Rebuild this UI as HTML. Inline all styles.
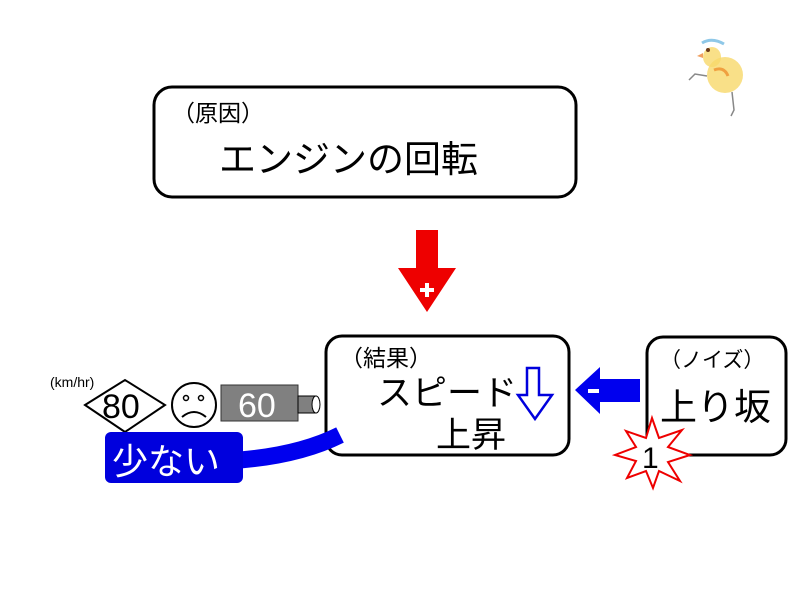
<!DOCTYPE html>
<html><head><meta charset="utf-8"><style>
html,body{margin:0;padding:0;background:#fff;}
text{font-family:"Liberation Sans","Noto Sans CJK JP",sans-serif;}
</style></head><body>
<svg width="800" height="596" viewBox="0 0 800 596" xmlns="http://www.w3.org/2000/svg">
<rect width="800" height="596" fill="#fff"/>
<!-- chick -->
<g>
<ellipse cx="725" cy="75" rx="18" ry="18" fill="#f8d86a" opacity="0.8"/>
<ellipse cx="712" cy="57" rx="9" ry="10" fill="#f8d86a" opacity="0.8"/>
<path d="M703 53 l-6 3 6 2z" fill="#f0a060"/>
<circle cx="708" cy="50" r="2" fill="#6b3a1a"/>
<path d="M702 43 q10 -6 22 1" stroke="#8fc8e8" stroke-width="3" fill="none"/>
<path d="M714 70 q10 -4 14 6" stroke="#f0a040" stroke-width="3" fill="none"/>
<path d="M707 76 l-12 -2 -6 6" stroke="#888" stroke-width="1.5" fill="none"/>
<path d="M732 92 l2 18 -3 6" stroke="#888" stroke-width="1.5" fill="none"/>
</g>
<!-- top box -->
<rect x="154" y="87" width="422" height="110" rx="18" fill="#fff" stroke="#000" stroke-width="3"/>
<text x="172" y="121" font-size="23">（原因）</text>
<text x="219" y="172" font-size="37">エンジンの回転</text>
<!-- red arrow -->
<polygon points="416,230 438,230 438,268 456,268 427,312 398,268 416,268" fill="#ee0000"/>
<rect x="420" y="288" width="14" height="4" fill="#fff"/>
<rect x="425" y="283" width="4" height="14" fill="#fff"/>
<!-- result box -->
<rect x="326" y="336" width="243" height="119" rx="16" fill="#fff" stroke="#000" stroke-width="3"/>
<text x="340" y="366" font-size="23">（結果）</text>
<text x="377" y="405" font-size="35">スピード</text>
<text x="436" y="447" font-size="35">上昇</text>
<polygon points="527,368 539,368 539,395 552,395 535,419 518,395 527,395" fill="#fff" stroke="#0000dd" stroke-width="2.5"/>
<!-- blue left arrow -->
<polygon points="640,379 640,402 600,402 600,414 575,390 600,367 600,379" fill="#0000ee"/>
<rect x="588" y="389" width="11" height="4" fill="#fff"/>
<!-- noise box -->
<rect x="647" y="337" width="139" height="118" rx="16" fill="#fff" stroke="#000" stroke-width="3"/>
<text x="660" y="367" font-size="21">（ノイズ）</text>
<text x="660" y="420" font-size="37">上り坂</text>
<!-- star -->
<polygon points="652,418 659,438 682,430 668,447 690,455 668,462 680,481 659,471 653,488 646,471 627,478 636,461 615,455 636,447 626,431 646,438" fill="#fff" stroke="#ee0000" stroke-width="2"/>
<text x="642" y="468" font-size="30">1</text>
<!-- left side -->
<text x="50" y="387" font-size="14">(km/hr)</text>
<polygon points="85,405 125,380 165,405 125,432" fill="#fff" stroke="#000" stroke-width="2"/>
<text x="102" y="418" font-size="34">80</text>
<circle cx="194" cy="405" r="22" fill="#fff" stroke="#000" stroke-width="2"/>
<circle cx="186" cy="398" r="2.5" fill="none" stroke="#000" stroke-width="1.5"/>
<circle cx="201" cy="398" r="2.5" fill="none" stroke="#000" stroke-width="1.5"/>
<path d="M182 417 q12 -10 24 0" fill="none" stroke="#000" stroke-width="2"/>
<rect x="221" y="385" width="77" height="36" fill="#808080" stroke="#333" stroke-width="1"/>
<text x="238" y="417" font-size="34" fill="#fff">60</text>
<rect x="298" y="396" width="18" height="17" fill="#808080" stroke="#000" stroke-width="1"/>
<ellipse cx="316" cy="404.5" rx="4" ry="8.5" fill="#fff" stroke="#000" stroke-width="1"/>
<!-- blue band -->
<path d="M240 460 Q300 455 340 435" fill="none" stroke="#0000ee" stroke-width="17"/>
<rect x="105" y="432" width="138" height="51" rx="6" fill="#0000dd"/>
<text x="112" y="474" font-size="36" fill="#fff">少ない</text>
</svg>
</body></html>
